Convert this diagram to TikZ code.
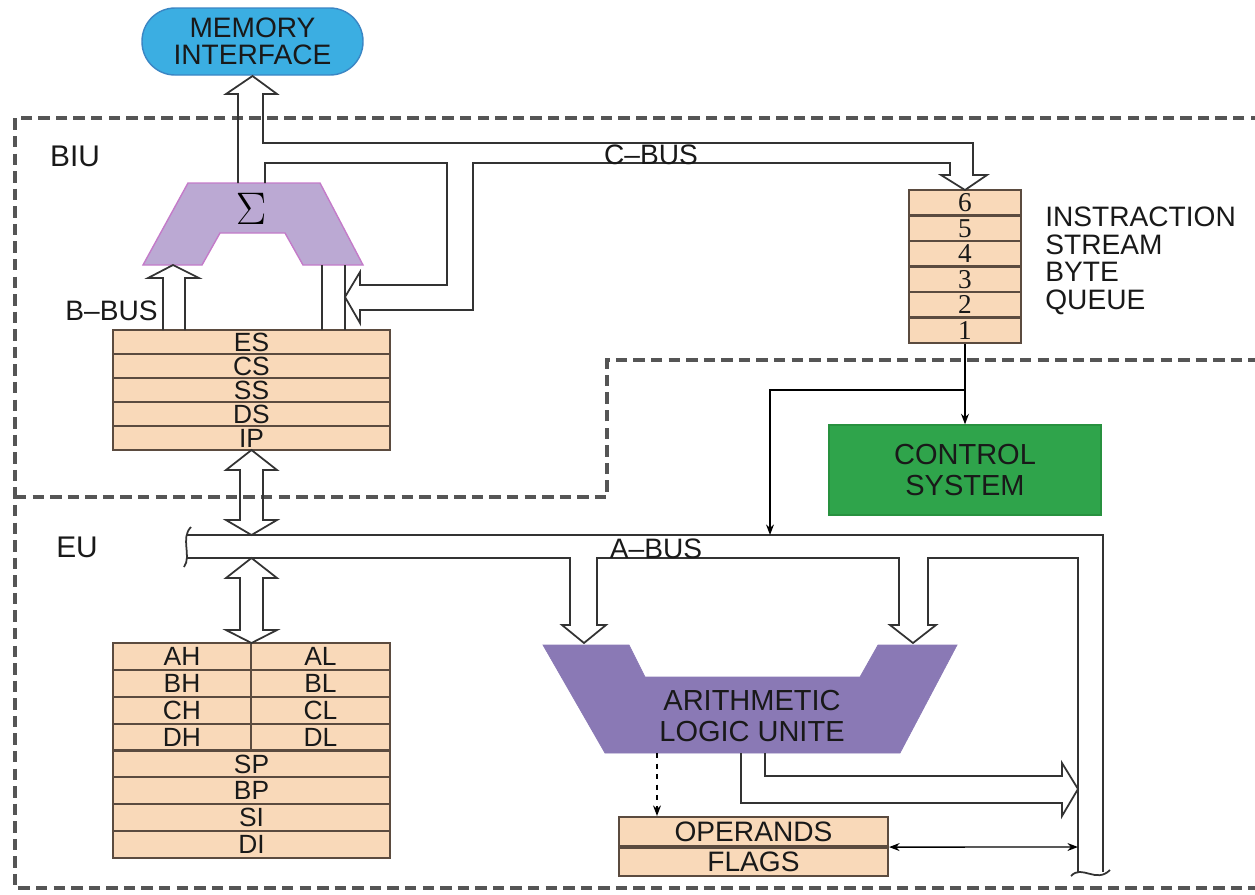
\RequirePackage{fix-cm}
\documentclass[tikz,border=0pt]{standalone}
\usepackage[no-math]{fontspec}
\setmainfont{Liberation Sans}
\newfontfamily\numserif{Liberation Serif}
\usepackage{xcolor}
\usepackage{tikz}
\usetikzlibrary{arrows.meta,positioning}

\definecolor{peach}{HTML}{F9D9B9}
\definecolor{regline}{HTML}{5B4B3F}
\definecolor{memblue}{HTML}{3BAEE2}
\definecolor{memedge}{HTML}{3A86C4}
\definecolor{sigfill}{HTML}{BBA9D3}
\definecolor{sigedge}{HTML}{C47BC9}
\definecolor{alufill}{HTML}{8A79B5}
\definecolor{ctrlfill}{HTML}{2FA44B}
\definecolor{ctrledge}{HTML}{28913F}
\definecolor{dashgray}{HTML}{555555}
\definecolor{busline}{HTML}{333333}

\newcommand{\lbl}{\fontsize{16}{15.6}\selectfont}
\newcommand{\lblwide}{\fontsize{16.5}{17.5}\selectfont}
\newcommand{\regfont}{\fontsize{15}{15}\selectfont}
\newcommand{\numfont}{\numserif\fontsize{15.5}{15.5}\selectfont}

\begin{document}
\begin{tikzpicture}[x=0.02cm, y=-0.02cm,
      reg_row/.style={
         draw=regline,
         fill=peach,
         line width=1.2pt,
         inner sep=0pt,
         text=black!90,
         font=\regfont},
      unit_dash/.style={
         draw=dashgray,
         line width=1.9pt,
         dash pattern=on 6.5pt off 3.5pt},
      bus_line/.style={
         draw=busline,
         line width=1pt},
      arrow_thin/.style={
         draw=black,
         line width=0.8pt,
         -{Stealth[length=6pt,width=4.5pt]}},
      label_txt/.style={
         inner sep=0pt,
         text=black!90,
         font=\lbl},
]
      \useasboundingbox (0,0) rectangle (1255,894);

      % BIU and EU borders
      \draw[unit_dash] (1262,118) -- (15,118) -- (15,888) -- (1262,888);
      \draw[unit_dash] (15,497) -- (607,497) -- (607,360) -- (1262,360);
      \node[label_txt,font=\fontsize{17}{17}\selectfont] (biu) at (75,156) {BIU};
      \node[label_txt,font=\fontsize{17}{17}\selectfont] (eu) at (77,547) {EU};

      % memory interface
      \node[label_txt, draw=memedge, fill=memblue, line width=0.8pt,
            rounded corners=0.66cm, minimum width=4.42cm, minimum height=1.34cm,
            align=center] (mem) at (252.5,41.5) {MEMORY\\INTERFACE};

      % address adder
      \draw[fill=sigfill, draw=sigedge, line width=0.8pt]
         (188,183) -- (320,183) -- (363,265) -- (303,265) -- (285,233)
         -- (220,233) -- (202,265) -- (143,265) -- cycle;
      \node[inner sep=0pt] (sig) at (251,209) {\fontsize{26}{26}\selectfont$\Sigma$};

      % segment registers
      \foreach \rname [count=\i from 0] in {ES,CS,SS,DS,IP}
         \node[reg_row, minimum width=5.54cm, minimum height=0.48cm] (\rname) at (251.5,{342+24*\i}) {\rname};

      % instruction queue
      \foreach \qnum [count=\i from 0] in {6,5,4,3,2,1}
         \node[reg_row, font=\numfont, minimum width=2.24cm, minimum height=0.51cm] (q\qnum) at (965,{202.75+25.5*\i}) {\qnum};
      \node[label_txt, align=left, anchor=north west] (qtxt) at (1045,207) {INSTRACTION\\STREAM\\BYTE\\QUEUE};

      % control system
      \node[label_txt, font=\lblwide, draw=ctrledge, fill=ctrlfill, line width=0.8pt,
            minimum width=5.44cm, minimum height=1.8cm, align=center] (ctrl) at (965,470) {CONTROL\\SYSTEM};

      % general registers
      \foreach \hname/\lname [count=\i from 0] in {AH/AL,BH/BL,CH/CL,DH/DL} {
         \node[reg_row, minimum width=2.76cm, minimum height=0.5375cm] (\hname) at (182,{656.44+26.875*\i}) {\hname};
         \node[reg_row, minimum width=2.78cm, minimum height=0.5375cm] (\lname) at (320.5,{656.44+26.875*\i}) {\lname};
      }
      \foreach \rname [count=\i from 4] in {SP,BP,SI,DI}
         \node[reg_row, minimum width=5.54cm, minimum height=0.5375cm] (\rname) at (251.5,{656.44+26.875*\i}) {\rname};

      % ALU
      \draw[fill=alufill, draw=alufill]
         (543,645) -- (629,645) -- (645,677) -- (860,677) -- (878,645)
         -- (957,645) -- (900,753) -- (605,753) -- cycle;
      \node[label_txt, font=\lblwide, align=center] (alu) at (752,716) {ARITHMETIC\\LOGIC UNITE};

      % operands and flags
      \node[reg_row, font=\lbl, minimum width=5.38cm, minimum height=0.58cm] (opnd) at (753.5,831.5) {OPERANDS};
      \node[reg_row, font=\lbl, minimum width=5.38cm, minimum height=0.56cm, below=0pt of opnd] (flags) {FLAGS};

      % C-bus
      \draw[bus_line] (238,183) -- (238,94) -- (226,94) -- (252.5,76) -- (277,94) -- (263,94)
         -- (263,143) -- (973,143) -- (973,175) -- (987,175) -- (965,190) -- (941,175)
         -- (950,175) -- (950,163) -- (473,163) -- (473,310) -- (360,310) -- (360,323)
         -- (345,297) -- (360,272) -- (360,285) -- (447,285) -- (447,163) -- (265,163) -- (265,183);
      \node[label_txt] (cbus) at (651,155) {C--BUS};

      % B-bus
      \draw[bus_line] (163,330) -- (163,278) -- (148,278) -- (173,265) -- (199,278) -- (185,278) -- (185,330);
      \draw[bus_line] (322,330) -- (322,265);
      \draw[bus_line] (345,330) -- (345,265);
      \node[label_txt, anchor=east] (bbus) at (158,311) {B--BUS};

      % links to A-bus
      \draw[bus_line] (240,470) -- (226,470) -- (251.5,450) -- (277,470) -- (263,470)
         -- (263,520) -- (277,520) -- (251.5,535) -- (226,520) -- (240,520) -- cycle;
      \draw[bus_line] (240,578) -- (226,578) -- (251.5,558) -- (277,578) -- (263,578)
         -- (263,630) -- (277,630) -- (251.5,643) -- (226,630) -- (240,630) -- cycle;

      % A-bus
      \draw[bus_line] (186,535) -- (1103,535) -- (1103,872);
      \draw[bus_line] (186,558) -- (570,558) -- (570,625) -- (562,625) -- (584,643) -- (606,625)
         -- (597,625) -- (597,558) -- (899,558) -- (899,625) -- (890,625) -- (913,643)
         -- (936,625) -- (928,625) -- (928,558) -- (1078,558) -- (1078,872);
      \draw[bus_line] (191,527) .. controls (180,538) and (192,556) .. (184,567);
      \draw[bus_line] (1071,876) .. controls (1082,864) and (1096,884) .. (1110,870);
      \node[label_txt] (abus) at (656,549) {A--BUS};

      % ALU result
      \draw[bus_line] (765,753) -- (765,776) -- (1062,776) -- (1062,763) -- (1078,789)
         -- (1062,816) -- (1062,803) -- (741,803) -- (741,753);

      % thin connectors
      \coordinate (tap) at (965,390);
      \coordinate (abus_in) at (770,535);
      \coordinate (alu_out) at (657,753);
      \coordinate (abus_side) at (1078,847);
      \draw[arrow_thin] (q1.south) -- (ctrl.north);
      \draw[arrow_thin] (tap) -| (abus_in);
      \draw[arrow_thin, dashed] (alu_out) -- (alu_out |- opnd.north);
      \draw[arrow_thin, {Stealth[length=6pt,width=4.5pt]}-{Stealth[length=6pt,width=4.5pt]}] (opnd.south east) -- (abus_side);

\end{tikzpicture}
\end{document}
